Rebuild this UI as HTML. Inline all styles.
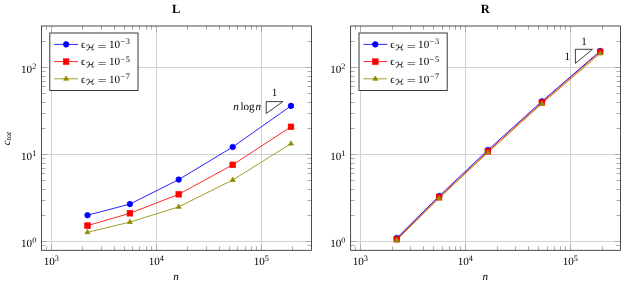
<!DOCTYPE html>
<html><head><meta charset="utf-8"><title>plot</title>
<style>
html,body{margin:0;padding:0;background:#fff;}
body{width:621px;height:284px;overflow:hidden;font-family:"Liberation Serif",serif;}
svg{display:block;text-rendering:geometricPrecision;will-change:transform;}
</style></head><body>
<svg width="621" height="284" viewBox="0 0 621 284" font-family="'Liberation Serif', serif" fill="#000">
<rect x="41.5" y="26" width="270" height="224.3" fill="#fff"/>
<path d="M51.5 26V250.3M156.5 26V250.3M261.5 26V250.3M41.5 241.5H311.5M41.5 154.5H311.5M41.5 67.5H311.5" stroke="#d2d2d2" stroke-width="1" fill="none"/>
<path d="M46.5 26v3.94M46.5 250.3v-3.94M82.5 26v3.94M82.5 250.3v-3.94M101.5 26v3.94M101.5 250.3v-3.94M114.5 26v3.94M114.5 250.3v-3.94M124.5 26v3.94M124.5 250.3v-3.94M132.5 26v3.94M132.5 250.3v-3.94M139.5 26v3.94M139.5 250.3v-3.94M146.5 26v3.94M146.5 250.3v-3.94M151.5 26v3.94M151.5 250.3v-3.94M187.5 26v3.94M187.5 250.3v-3.94M206.5 26v3.94M206.5 250.3v-3.94M219.5 26v3.94M219.5 250.3v-3.94M229.5 26v3.94M229.5 250.3v-3.94M237.5 26v3.94M237.5 250.3v-3.94M245.5 26v3.94M245.5 250.3v-3.94M251.5 26v3.94M251.5 250.3v-3.94M256.5 26v3.94M256.5 250.3v-3.94M292.5 26v3.94M292.5 250.3v-3.94M41.5 245.5h3.94M311.5 245.5h-3.94M41.5 215.5h3.94M311.5 215.5h-3.94M41.5 200.5h3.94M311.5 200.5h-3.94M41.5 189.5h3.94M311.5 189.5h-3.94M41.5 180.5h3.94M311.5 180.5h-3.94M41.5 173.5h3.94M311.5 173.5h-3.94M41.5 168.5h3.94M311.5 168.5h-3.94M41.5 163.5h3.94M311.5 163.5h-3.94M41.5 158.5h3.94M311.5 158.5h-3.94M41.5 128.5h3.94M311.5 128.5h-3.94M41.5 113.5h3.94M311.5 113.5h-3.94M41.5 102.5h3.94M311.5 102.5h-3.94M41.5 93.5h3.94M311.5 93.5h-3.94M41.5 86.5h3.94M311.5 86.5h-3.94M41.5 81.5h3.94M311.5 81.5h-3.94M41.5 76.5h3.94M311.5 76.5h-3.94M41.5 71.5h3.94M311.5 71.5h-3.94M41.5 41.5h3.94M311.5 41.5h-3.94" stroke="#acacac" stroke-width="1" fill="none"/>
<path d="M51.5 26v5.9M51.5 250.3v-5.9M156.5 26v5.9M156.5 250.3v-5.9M261.5 26v5.9M261.5 250.3v-5.9M41.5 241.5h5.9M311.5 241.5h-5.9M41.5 154.5h5.9M311.5 154.5h-5.9M41.5 67.5h5.9M311.5 67.5h-5.9" stroke="#acacac" stroke-width="1" fill="none"/>
<polyline points="87.5,215.2 129.9,204.1 178.7,179.6 232.7,147 291,105.9" fill="none" stroke="#0000ff" stroke-width="0.85"/>
<polyline points="87.5,225.6 129.9,213.3 178.7,194.3 232.7,164.8 291,126.8" fill="none" stroke="#ff0000" stroke-width="0.85"/>
<polyline points="87.5,232.3 129.9,222.1 178.7,206.9 232.7,180 291,143.7" fill="none" stroke="#948c00" stroke-width="0.85"/>
<circle cx="87.5" cy="215.2" r="2.78" fill="#0000ff" stroke="#0000ff" stroke-width="0.7"/>
<circle cx="129.9" cy="204.1" r="2.78" fill="#0000ff" stroke="#0000ff" stroke-width="0.7"/>
<circle cx="178.7" cy="179.6" r="2.78" fill="#0000ff" stroke="#0000ff" stroke-width="0.7"/>
<circle cx="232.7" cy="147" r="2.78" fill="#0000ff" stroke="#0000ff" stroke-width="0.7"/>
<circle cx="291" cy="105.9" r="2.78" fill="#0000ff" stroke="#0000ff" stroke-width="0.7"/>
<rect x="84.72" y="222.82" width="5.56" height="5.56" fill="#ff0000" stroke="#ff0000" stroke-width="0.7"/>
<rect x="127.12" y="210.52" width="5.56" height="5.56" fill="#ff0000" stroke="#ff0000" stroke-width="0.7"/>
<rect x="175.92" y="191.52" width="5.56" height="5.56" fill="#ff0000" stroke="#ff0000" stroke-width="0.7"/>
<rect x="229.92" y="162.02" width="5.56" height="5.56" fill="#ff0000" stroke="#ff0000" stroke-width="0.7"/>
<rect x="288.22" y="124.02" width="5.56" height="5.56" fill="#ff0000" stroke="#ff0000" stroke-width="0.7"/>
<path d="M87.5 229.52L85.09 233.69L89.91 233.69Z" fill="#948c00" stroke="#948c00" stroke-width="0.85" stroke-linejoin="miter"/>
<path d="M129.9 219.32L127.49 223.49L132.31 223.49Z" fill="#948c00" stroke="#948c00" stroke-width="0.85" stroke-linejoin="miter"/>
<path d="M178.7 204.12L176.29 208.29L181.11 208.29Z" fill="#948c00" stroke="#948c00" stroke-width="0.85" stroke-linejoin="miter"/>
<path d="M232.7 177.22L230.29 181.39L235.11 181.39Z" fill="#948c00" stroke="#948c00" stroke-width="0.85" stroke-linejoin="miter"/>
<path d="M291 140.92L288.59 145.09L293.41 145.09Z" fill="#948c00" stroke="#948c00" stroke-width="0.85" stroke-linejoin="miter"/>
<rect x="41.5" y="26" width="270" height="224.3" fill="none" stroke="#202020" stroke-width="0.8"/>
<text x="51.3" y="264.9" text-anchor="middle" font-size="11.1">10<tspan font-size="8.3" dy="-3.8">3</tspan></text>
<text x="156.3" y="264.9" text-anchor="middle" font-size="11.1">10<tspan font-size="8.3" dy="-3.8">4</tspan></text>
<text x="261.3" y="264.9" text-anchor="middle" font-size="11.1">10<tspan font-size="8.3" dy="-3.8">5</tspan></text>
<text x="36.3" y="246.8" text-anchor="end" font-size="11.1">10<tspan font-size="8.3" dy="-3.8">0</tspan></text>
<text x="36.3" y="159.8" text-anchor="end" font-size="11.1">10<tspan font-size="8.3" dy="-3.8">1</tspan></text>
<text x="36.3" y="72.8" text-anchor="end" font-size="11.1">10<tspan font-size="8.3" dy="-3.8">2</tspan></text>
<text x="176.1" y="279.6" text-anchor="middle" font-size="11.1" font-style="italic">n</text>
<text x="176.2" y="13.1" text-anchor="middle" font-size="12.5" font-weight="bold" fill="#000">L</text>
<rect x="49.8" y="33" width="88.2" height="57.5" fill="#fff" stroke="#383838" stroke-width="1"/>
<path d="M54.2 44.4H78" stroke="#0000ff" stroke-width="0.85"/>
<circle cx="66.1" cy="44.4" r="2.78" fill="#0000ff" stroke="#0000ff" stroke-width="0.7"/>
<text x="81" y="48.2" font-size="11.1">ϵ</text>
<path transform="translate(86.6 44.5) scale(6.6 5.8)" d="M0.02 0.22C0.04 0.08 0.16 0.02 0.3 0.04C0.42 0.06 0.46 0.18 0.42 0.4C0.38 0.65 0.3 0.9 0.16 0.98C0.1 1 0.05 0.97 0.04 0.92M0.38 0.52L0.86 0.46M1.02 0.02C0.94 0.1 0.9 0.25 0.86 0.46C0.82 0.7 0.8 0.88 0.86 0.95C0.92 1 1.02 0.97 1.1 0.86" fill="none" stroke="#000" stroke-width="0.12" stroke-linecap="round" stroke-linejoin="round"/>
<text transform="translate(97.6 49.5) scale(1.45 1)" font-size="11.1">=</text>
<text x="108.9" y="48.2" font-size="11.1">10<tspan font-size="8.3" dy="-3.9" dx="0.4">−</tspan><tspan font-size="8.3" dx="0.7">3</tspan></text>
<path d="M54.2 61.6H78" stroke="#ff0000" stroke-width="0.85"/>
<rect x="63.32" y="58.82" width="5.56" height="5.56" fill="#ff0000" stroke="#ff0000" stroke-width="0.7"/>
<text x="81" y="65.4" font-size="11.1">ϵ</text>
<path transform="translate(86.6 61.7) scale(6.6 5.8)" d="M0.02 0.22C0.04 0.08 0.16 0.02 0.3 0.04C0.42 0.06 0.46 0.18 0.42 0.4C0.38 0.65 0.3 0.9 0.16 0.98C0.1 1 0.05 0.97 0.04 0.92M0.38 0.52L0.86 0.46M1.02 0.02C0.94 0.1 0.9 0.25 0.86 0.46C0.82 0.7 0.8 0.88 0.86 0.95C0.92 1 1.02 0.97 1.1 0.86" fill="none" stroke="#000" stroke-width="0.12" stroke-linecap="round" stroke-linejoin="round"/>
<text transform="translate(97.6 66.7) scale(1.45 1)" font-size="11.1">=</text>
<text x="108.9" y="65.4" font-size="11.1">10<tspan font-size="8.3" dy="-3.9" dx="0.4">−</tspan><tspan font-size="8.3" dx="0.7">5</tspan></text>
<path d="M54.2 78.8H78" stroke="#948c00" stroke-width="0.85"/>
<path d="M66.1 76.02L63.69 80.19L68.51 80.19Z" fill="#948c00" stroke="#948c00" stroke-width="0.85" stroke-linejoin="miter"/>
<text x="81" y="82.6" font-size="11.1">ϵ</text>
<path transform="translate(86.6 78.9) scale(6.6 5.8)" d="M0.02 0.22C0.04 0.08 0.16 0.02 0.3 0.04C0.42 0.06 0.46 0.18 0.42 0.4C0.38 0.65 0.3 0.9 0.16 0.98C0.1 1 0.05 0.97 0.04 0.92M0.38 0.52L0.86 0.46M1.02 0.02C0.94 0.1 0.9 0.25 0.86 0.46C0.82 0.7 0.8 0.88 0.86 0.95C0.92 1 1.02 0.97 1.1 0.86" fill="none" stroke="#000" stroke-width="0.12" stroke-linecap="round" stroke-linejoin="round"/>
<text transform="translate(97.6 83.9) scale(1.45 1)" font-size="11.1">=</text>
<text x="108.9" y="82.6" font-size="11.1">10<tspan font-size="8.3" dy="-3.9" dx="0.4">−</tspan><tspan font-size="8.3" dx="0.7">7</tspan></text>
<path d="M266.2 113.5V101.6H282.9Z" fill="none" stroke="#000" stroke-width="0.75"/>
<text x="274.55" y="96.3" text-anchor="middle" font-size="11.1">1</text>
<text x="261.1" y="110.1" text-anchor="end" font-size="11.1"><tspan font-style="italic">n</tspan><tspan dx="1.7">log</tspan><tspan font-style="italic" dx="0.9">n</tspan></text>
<rect x="350.65" y="26" width="269.85" height="224.3" fill="#fff"/>
<path d="M360.5 26V250.3M465.5 26V250.3M570.5 26V250.3M350.65 241.5H620.5M350.65 154.5H620.5M350.65 67.5H620.5" stroke="#d2d2d2" stroke-width="1" fill="none"/>
<path d="M355.5 26v3.94M355.5 250.3v-3.94M392.5 26v3.94M392.5 250.3v-3.94M410.5 26v3.94M410.5 250.3v-3.94M423.5 26v3.94M423.5 250.3v-3.94M433.5 26v3.94M433.5 250.3v-3.94M442.5 26v3.94M442.5 250.3v-3.94M449.5 26v3.94M449.5 250.3v-3.94M455.5 26v3.94M455.5 250.3v-3.94M460.5 26v3.94M460.5 250.3v-3.94M497.5 26v3.94M497.5 250.3v-3.94M515.5 26v3.94M515.5 250.3v-3.94M528.5 26v3.94M528.5 250.3v-3.94M538.5 26v3.94M538.5 250.3v-3.94M547.5 26v3.94M547.5 250.3v-3.94M554.5 26v3.94M554.5 250.3v-3.94M560.5 26v3.94M560.5 250.3v-3.94M565.5 26v3.94M565.5 250.3v-3.94M602.5 26v3.94M602.5 250.3v-3.94M350.65 245.5h3.94M620.5 245.5h-3.94M350.65 215.5h3.94M620.5 215.5h-3.94M350.65 200.5h3.94M620.5 200.5h-3.94M350.65 189.5h3.94M620.5 189.5h-3.94M350.65 180.5h3.94M620.5 180.5h-3.94M350.65 173.5h3.94M620.5 173.5h-3.94M350.65 168.5h3.94M620.5 168.5h-3.94M350.65 163.5h3.94M620.5 163.5h-3.94M350.65 158.5h3.94M620.5 158.5h-3.94M350.65 128.5h3.94M620.5 128.5h-3.94M350.65 113.5h3.94M620.5 113.5h-3.94M350.65 102.5h3.94M620.5 102.5h-3.94M350.65 93.5h3.94M620.5 93.5h-3.94M350.65 86.5h3.94M620.5 86.5h-3.94M350.65 81.5h3.94M620.5 81.5h-3.94M350.65 76.5h3.94M620.5 76.5h-3.94M350.65 71.5h3.94M620.5 71.5h-3.94M350.65 41.5h3.94M620.5 41.5h-3.94" stroke="#acacac" stroke-width="1" fill="none"/>
<path d="M360.5 26v5.9M360.5 250.3v-5.9M465.5 26v5.9M465.5 250.3v-5.9M570.5 26v5.9M570.5 250.3v-5.9M350.65 241.5h5.9M620.5 241.5h-5.9M350.65 154.5h5.9M620.5 154.5h-5.9M350.65 67.5h5.9M620.5 67.5h-5.9" stroke="#acacac" stroke-width="1" fill="none"/>
<polyline points="396.7,238 439.1,196 487.9,150 541.9,101.3 600.2,51" fill="none" stroke="#0000ff" stroke-width="0.85"/>
<polyline points="396.7,239.3 439.1,197.3 487.9,151.4 541.9,102.5 600.2,51.9" fill="none" stroke="#ff0000" stroke-width="0.85"/>
<polyline points="396.7,240.2 439.1,198.3 487.9,152.5 541.9,103.8 600.2,53.5" fill="none" stroke="#948c00" stroke-width="0.85"/>
<circle cx="396.7" cy="238" r="2.78" fill="#0000ff" stroke="#0000ff" stroke-width="0.7"/>
<circle cx="439.1" cy="196" r="2.78" fill="#0000ff" stroke="#0000ff" stroke-width="0.7"/>
<circle cx="487.9" cy="150" r="2.78" fill="#0000ff" stroke="#0000ff" stroke-width="0.7"/>
<circle cx="541.9" cy="101.3" r="2.78" fill="#0000ff" stroke="#0000ff" stroke-width="0.7"/>
<circle cx="600.2" cy="51" r="2.78" fill="#0000ff" stroke="#0000ff" stroke-width="0.7"/>
<rect x="393.92" y="236.52" width="5.56" height="5.56" fill="#ff0000" stroke="#ff0000" stroke-width="0.7"/>
<rect x="436.32" y="194.52" width="5.56" height="5.56" fill="#ff0000" stroke="#ff0000" stroke-width="0.7"/>
<rect x="485.12" y="148.62" width="5.56" height="5.56" fill="#ff0000" stroke="#ff0000" stroke-width="0.7"/>
<rect x="539.12" y="99.72" width="5.56" height="5.56" fill="#ff0000" stroke="#ff0000" stroke-width="0.7"/>
<rect x="597.42" y="49.12" width="5.56" height="5.56" fill="#ff0000" stroke="#ff0000" stroke-width="0.7"/>
<path d="M396.7 237.42L394.29 241.59L399.11 241.59Z" fill="#948c00" stroke="#948c00" stroke-width="0.85" stroke-linejoin="miter"/>
<path d="M439.1 195.52L436.69 199.69L441.51 199.69Z" fill="#948c00" stroke="#948c00" stroke-width="0.85" stroke-linejoin="miter"/>
<path d="M487.9 149.72L485.49 153.89L490.31 153.89Z" fill="#948c00" stroke="#948c00" stroke-width="0.85" stroke-linejoin="miter"/>
<path d="M541.9 101.02L539.49 105.19L544.31 105.19Z" fill="#948c00" stroke="#948c00" stroke-width="0.85" stroke-linejoin="miter"/>
<path d="M600.2 50.72L597.79 54.89L602.61 54.89Z" fill="#948c00" stroke="#948c00" stroke-width="0.85" stroke-linejoin="miter"/>
<rect x="350.65" y="26" width="269.85" height="224.3" fill="none" stroke="#202020" stroke-width="0.8"/>
<text x="360.3" y="264.9" text-anchor="middle" font-size="11.1">10<tspan font-size="8.3" dy="-3.8">3</tspan></text>
<text x="465.3" y="264.9" text-anchor="middle" font-size="11.1">10<tspan font-size="8.3" dy="-3.8">4</tspan></text>
<text x="570.3" y="264.9" text-anchor="middle" font-size="11.1">10<tspan font-size="8.3" dy="-3.8">5</tspan></text>
<text x="345.45" y="246.8" text-anchor="end" font-size="11.1">10<tspan font-size="8.3" dy="-3.8">0</tspan></text>
<text x="345.45" y="159.8" text-anchor="end" font-size="11.1">10<tspan font-size="8.3" dy="-3.8">1</tspan></text>
<text x="345.45" y="72.8" text-anchor="end" font-size="11.1">10<tspan font-size="8.3" dy="-3.8">2</tspan></text>
<text x="485.18" y="279.6" text-anchor="middle" font-size="11.1" font-style="italic">n</text>
<text x="485.27" y="13.1" text-anchor="middle" font-size="12.5" font-weight="bold" fill="#000">R</text>
<rect x="359" y="33" width="88.2" height="57.5" fill="#fff" stroke="#383838" stroke-width="1"/>
<path d="M363.4 44.4H387.2" stroke="#0000ff" stroke-width="0.85"/>
<circle cx="375.3" cy="44.4" r="2.78" fill="#0000ff" stroke="#0000ff" stroke-width="0.7"/>
<text x="390.2" y="48.2" font-size="11.1">ϵ</text>
<path transform="translate(395.8 44.5) scale(6.6 5.8)" d="M0.02 0.22C0.04 0.08 0.16 0.02 0.3 0.04C0.42 0.06 0.46 0.18 0.42 0.4C0.38 0.65 0.3 0.9 0.16 0.98C0.1 1 0.05 0.97 0.04 0.92M0.38 0.52L0.86 0.46M1.02 0.02C0.94 0.1 0.9 0.25 0.86 0.46C0.82 0.7 0.8 0.88 0.86 0.95C0.92 1 1.02 0.97 1.1 0.86" fill="none" stroke="#000" stroke-width="0.12" stroke-linecap="round" stroke-linejoin="round"/>
<text transform="translate(406.8 49.5) scale(1.45 1)" font-size="11.1">=</text>
<text x="418.1" y="48.2" font-size="11.1">10<tspan font-size="8.3" dy="-3.9" dx="0.4">−</tspan><tspan font-size="8.3" dx="0.7">3</tspan></text>
<path d="M363.4 61.6H387.2" stroke="#ff0000" stroke-width="0.85"/>
<rect x="372.52" y="58.82" width="5.56" height="5.56" fill="#ff0000" stroke="#ff0000" stroke-width="0.7"/>
<text x="390.2" y="65.4" font-size="11.1">ϵ</text>
<path transform="translate(395.8 61.7) scale(6.6 5.8)" d="M0.02 0.22C0.04 0.08 0.16 0.02 0.3 0.04C0.42 0.06 0.46 0.18 0.42 0.4C0.38 0.65 0.3 0.9 0.16 0.98C0.1 1 0.05 0.97 0.04 0.92M0.38 0.52L0.86 0.46M1.02 0.02C0.94 0.1 0.9 0.25 0.86 0.46C0.82 0.7 0.8 0.88 0.86 0.95C0.92 1 1.02 0.97 1.1 0.86" fill="none" stroke="#000" stroke-width="0.12" stroke-linecap="round" stroke-linejoin="round"/>
<text transform="translate(406.8 66.7) scale(1.45 1)" font-size="11.1">=</text>
<text x="418.1" y="65.4" font-size="11.1">10<tspan font-size="8.3" dy="-3.9" dx="0.4">−</tspan><tspan font-size="8.3" dx="0.7">5</tspan></text>
<path d="M363.4 78.8H387.2" stroke="#948c00" stroke-width="0.85"/>
<path d="M375.3 76.02L372.89 80.19L377.71 80.19Z" fill="#948c00" stroke="#948c00" stroke-width="0.85" stroke-linejoin="miter"/>
<text x="390.2" y="82.6" font-size="11.1">ϵ</text>
<path transform="translate(395.8 78.9) scale(6.6 5.8)" d="M0.02 0.22C0.04 0.08 0.16 0.02 0.3 0.04C0.42 0.06 0.46 0.18 0.42 0.4C0.38 0.65 0.3 0.9 0.16 0.98C0.1 1 0.05 0.97 0.04 0.92M0.38 0.52L0.86 0.46M1.02 0.02C0.94 0.1 0.9 0.25 0.86 0.46C0.82 0.7 0.8 0.88 0.86 0.95C0.92 1 1.02 0.97 1.1 0.86" fill="none" stroke="#000" stroke-width="0.12" stroke-linecap="round" stroke-linejoin="round"/>
<text transform="translate(406.8 83.9) scale(1.45 1)" font-size="11.1">=</text>
<text x="418.1" y="82.6" font-size="11.1">10<tspan font-size="8.3" dy="-3.9" dx="0.4">−</tspan><tspan font-size="8.3" dx="0.7">7</tspan></text>
<path d="M575.4 63.4V49.3H592.5Z" fill="none" stroke="#000" stroke-width="0.75"/>
<text x="583.95" y="44.5" text-anchor="middle" font-size="11.1">1</text>
<text x="567.3" y="59.9" text-anchor="middle" font-size="11.1">1</text>
<text transform="translate(9.6 145.2) rotate(-90)" font-size="11.1" font-style="italic">c<tspan font-size="7.9" dy="1.7">tot</tspan></text>
</svg>
</body></html>
